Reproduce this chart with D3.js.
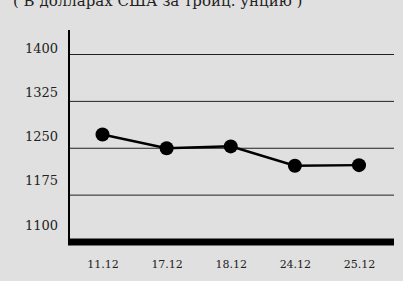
<!DOCTYPE html>
<html>
<head>
<meta charset="utf-8">
<script src="https://cdn.jsdelivr.net/npm/d3@7"></script>
<style>
  body { margin: 0; background: #e0e0e0; }
  svg { display: block; }
  text { font-family: "DejaVu Serif", serif; fill: #222; }
</style>
</head>
<body>
<div id="chart"></div>
<script>
var dates = ["11.12", "17.12", "18.12", "24.12", "25.12"];
var prices = [1272, 1250, 1253, 1222, 1223];
var yTicks = [1100, 1175, 1250, 1325, 1400];
var title = "( В долларах США за тройц. унцию )";

var width = 403, height = 281;

var svg = d3.select("#chart").append("svg")
  .attr("width", width)
  .attr("height", height);

// x: points placed on a point scale
var xScale = d3.scalePoint()
  .domain(dates)
  .range([102.5, 359])
  .padding(0);

// grid + data scale
var yScale = d3.scaleLinear()
  .domain([1100, 1400])
  .range([242, 54.5]);

// labels sit a bit above their gridline
var yLabel = d3.scaleLinear()
  .domain([1100, 1400])
  .range([225, 48]);

// title (cut off at the top edge, like the source)
svg.append("text")
  .attr("x", 13)
  .attr("y", 6)
  .style("font-size", "15px")
  .text(title);

// gridlines
svg.selectAll(".grid")
  .data(yTicks.filter(function(d) { return d > 1100; }))
  .enter().append("line")
  .attr("class", "grid")
  .attr("x1", 69)
  .attr("x2", 394)
  .attr("y1", function(d) { return yScale(d); })
  .attr("y2", function(d) { return yScale(d); })
  .attr("stroke", "#222")
  .attr("stroke-width", 1);

// y labels
svg.append("g")
  .attr("class", "y axis")
  .attr("transform", "translate(58,0)")
  .call(d3.axisLeft(yLabel).tickValues(yTicks).tickSize(0).tickPadding(0).tickFormat(d3.format("d")))
  .call(function(g) { g.select(".domain").remove(); })
  .selectAll("text")
  .style("font-size", "13px")
  .style("font-family", "DejaVu Serif, serif")
  .attr("fill", "#222");

// vertical axis line
svg.append("line")
  .attr("x1", 69).attr("x2", 69)
  .attr("y1", 30).attr("y2", 242)
  .attr("stroke", "#000")
  .attr("stroke-width", 2);

// thick baseline
svg.append("line")
  .attr("x1", 68).attr("x2", 394)
  .attr("y1", yScale(1100)).attr("y2", yScale(1100))
  .attr("stroke", "#000")
  .attr("stroke-width", 7);

// x labels
svg.append("g")
  .attr("class", "x axis")
  .attr("transform", "translate(0,260)")
  .call(d3.axisBottom(xScale).tickSize(0).tickPadding(0))
  .call(function(g) { g.select(".domain").remove(); })
  .selectAll("text")
  .style("font-size", "11px")
  .style("font-family", "DejaVu Serif, serif")
  .attr("fill", "#222");

var line = d3.line()
  .x(function(d, i) { return xScale(dates[i]); })
  .y(function(d) { return yScale(d); });

svg.append("path")
  .datum(prices)
  .attr("d", line)
  .attr("fill", "none")
  .attr("stroke", "#000")
  .attr("stroke-width", 2.5);

svg.selectAll(".dot")
  .data(prices)
  .enter().append("circle")
  .attr("class", "dot")
  .attr("cx", function(d, i) { return xScale(dates[i]); })
  .attr("cy", function(d) { return yScale(d); })
  .attr("r", 7)
  .attr("fill", "#000");
</script>
</body>
</html>
